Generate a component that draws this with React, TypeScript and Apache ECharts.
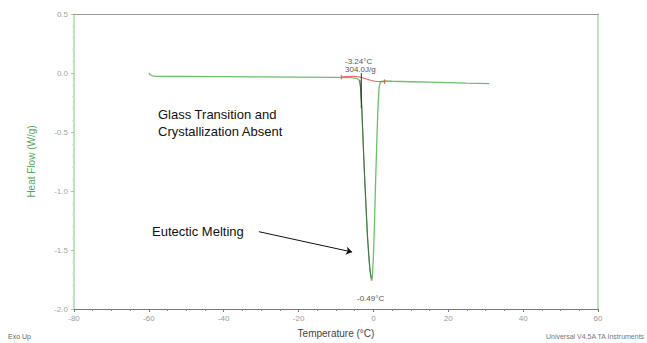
import React, { useEffect, useRef } from "react";
import * as echarts from "echarts";

const tempC = [-60, -59.6, -59, -58, -56, -50, -40, -30, -20, -10, -6, -4.5, -3.8, -3.4, -3.1, -2.8, -2.4, -2, -1.6, -1.2, -0.8, -0.5, -0.3, 0, 0.3, 0.6, 0.9, 1.2, 1.5, 1.8, 2.2, 3, 5, 10, 15, 20, 25, 31];
const heatFlow = [0.0, -0.015, -0.025, -0.028, -0.028, -0.029, -0.031, -0.033, -0.035, -0.037, -0.04, -0.045, -0.06, -0.12, -0.3, -0.55, -0.85, -1.12, -1.38, -1.57, -1.7, -1.755, -1.74, -1.55, -1.25, -0.9, -0.58, -0.3, -0.13, -0.08, -0.07, -0.068, -0.07, -0.074, -0.078, -0.082, -0.086, -0.09];

const tangentT = [-3.6, -3.1, -2.4, -1.6, -1.0, -0.6];
const tangentV = [-0.06, -0.3, -0.85, -1.38, -1.65, -1.74];

const baseT = [-8.6, -6, -3.6, -2.5, -1.5, -0.2, 1, 3];
const baseV = [-0.035, -0.028, -0.035, -0.045, -0.055, -0.066, -0.072, -0.074];

const onsetT = -3.24;
const peakT = -0.49;
const peakV = -1.755;

const xTicks = { min: -80, max: 60, interval: 20 };
const yTicks = { min: -2.0, max: 0.5, interval: 0.5 };

const arrowFrom = [-30.6, -1.345];
const arrowTo = [-5.7, -1.517];

export default function App() {
  const ref = useRef<HTMLDivElement>(null);
  useEffect(() => {
    if (!ref.current) return;
    const chart = echarts.init(ref.current, undefined, { renderer: "svg" });
    const pair = (a: number[], b: number[]) => a.map((t, i) => [t, b[i]]);
    const green = "#6cbf6c";
    const labelColor = "#9a9a9a";
    chart.setOption({
      animation: false,
      grid: { left: 74, right: 49, top: 14, bottom: 27 },
      xAxis: [
        {
          type: "value",
          min: xTicks.min,
          max: xTicks.max,
          interval: xTicks.interval,
          name: "Temperature (°C)",
          nameLocation: "middle",
          nameGap: 19,
          nameTextStyle: { color: "#444", fontSize: 10, fontFamily: "Liberation Sans" },
          axisLine: { show: true, onZero: false, lineStyle: { color: "#777", width: 1 } },
          axisTick: { show: true, length: 3, lineStyle: { color: "#777" } },
          minorTick: { show: true, splitNumber: 4, length: 2, lineStyle: { color: "#888" } },
          axisLabel: { color: labelColor, fontSize: 8, margin: 5, fontFamily: "Liberation Sans" },
          splitLine: { show: false },
        },
        {
          type: "value",
          position: "top",
          min: xTicks.min,
          max: xTicks.max,
          axisLine: { show: true, onZero: false, lineStyle: { color: "#999", width: 1.2 } },
          axisTick: { show: false },
          axisLabel: { show: false },
          splitLine: { show: false },
        },
      ],
      yAxis: [
        {
          type: "value",
          min: yTicks.min,
          max: yTicks.max,
          interval: yTicks.interval,
          name: "Heat Flow (W/g)",
          nameLocation: "middle",
          nameGap: 38,
          nameTextStyle: { color: "#5aa55a", fontSize: 10, fontFamily: "Liberation Sans" },
          axisLine: { show: true, onZero: false, lineStyle: { color: "#a9d8a9", width: 1.5 } },
          axisTick: { show: true, length: 3, lineStyle: { color: "#9c9" } },
          minorTick: { show: true, splitNumber: 5, length: 2, lineStyle: { color: "#cde8cd" } },
          axisLabel: {
            color: "#9aaa9a",
            fontSize: 8,
            margin: 6,
            fontFamily: "Liberation Sans",
            formatter: (v: number) => v.toFixed(1),
          },
          splitLine: { show: false },
        },
        {
          type: "value",
          position: "right",
          min: yTicks.min,
          max: yTicks.max,
          axisLine: { show: true, onZero: false, lineStyle: { color: "#a9d8a9", width: 1.5 } },
          axisTick: { show: false },
          axisLabel: { show: false },
          splitLine: { show: false },
        },
      ],
      series: [
        {
          type: "line",
          data: pair(tempC, heatFlow),
          showSymbol: false,
          lineStyle: { color: green, width: 1.3 },
          markLine: {
            silent: true,
            symbol: ["none", "arrow"],
            symbolSize: 6,
            label: { show: false },
            lineStyle: { color: "#111", width: 1, type: "solid" },
            data: [[{ coord: arrowFrom }, { coord: arrowTo }]],
          },
          z: 2,
        },
        {
          type: "line",
          data: pair(tangentT, tangentV),
          showSymbol: false,
          lineStyle: { color: "#4a6a4a", width: 1 },
          z: 3,
        },
        {
          type: "line",
          data: pair(baseT, baseV),
          showSymbol: false,
          smooth: true,
          lineStyle: { color: "#e05050", width: 1 },
          z: 4,
        },
        {
          type: "line",
          data: [[baseT[0], baseV[0] + 0.02], [baseT[0], baseV[0] - 0.02]],
          showSymbol: false,
          lineStyle: { color: "#e05050", width: 1 },
        },
        {
          type: "line",
          data: [[baseT[baseT.length - 1], baseV[baseV.length - 1] + 0.02], [baseT[baseT.length - 1], baseV[baseV.length - 1] - 0.02]],
          showSymbol: false,
          lineStyle: { color: "#e05050", width: 1 },
        },
        {
          type: "line",
          data: [[onsetT, 0.0], [onsetT, -0.3]],
          showSymbol: false,
          lineStyle: { color: "#333", width: 1 },
          z: 5,
        },
        {
          type: "line",
          data: [[peakT - 0.3, peakV], [peakT + 0.3, peakV]],
          showSymbol: false,
          lineStyle: { color: "#f08080", width: 1 },
          z: 5,
        },
      ],
      graphic: [
        { type: "text", left: 345, top: 57, style: { text: "-3.24°C", fill: "#555", font: "8px Liberation Sans" } },
        { type: "text", left: 345, top: 65, style: { text: "304.0J/g", fill: "#555", font: "8px Liberation Sans" } },
        { type: "text", left: 357, top: 294, style: { text: "-0.49°C", fill: "#555", font: "8px Liberation Sans" } },
        { type: "text", left: 158, top: 108, style: { text: "Glass Transition and", fill: "#111", font: "13px Liberation Sans" } },
        { type: "text", left: 158, top: 125, style: { text: "Crystallization Absent", fill: "#111", font: "13px Liberation Sans" } },
        { type: "text", left: 152, top: 225, style: { text: "Eutectic Melting", fill: "#111", font: "13px Liberation Sans" } },
        { type: "text", left: 8, top: 333, style: { text: "Exo Up", fill: "#666", font: "7px Liberation Sans" } },
        { type: "text", right: 2, top: 333, style: { text: "Universal V4.5A TA Instruments", fill: "#777", font: "7px Liberation Sans" } },
      ],
    });
    return () => chart.dispose();
  }, []);
  return <div ref={ref} style={{ width: 647, height: 343, position: "absolute", left: 0, top: 0, background: "#fff" }} />;
}
